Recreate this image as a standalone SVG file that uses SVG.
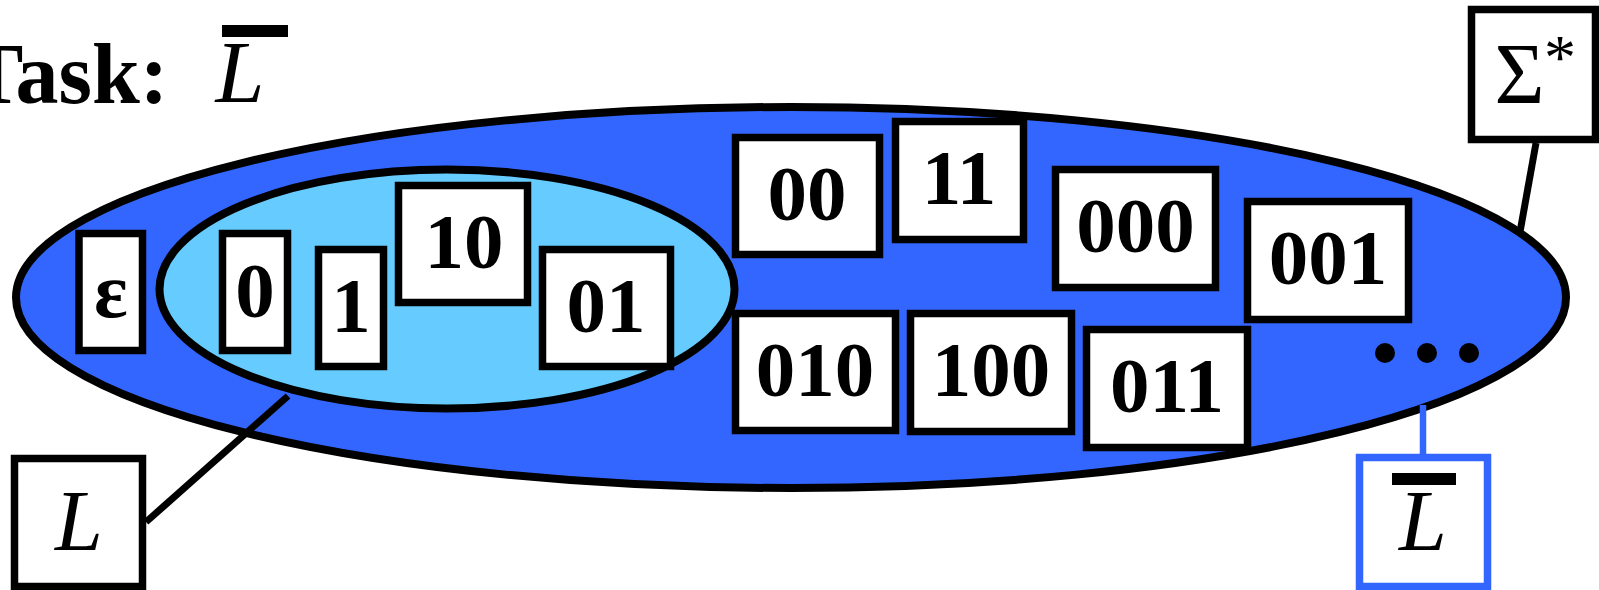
<svg xmlns="http://www.w3.org/2000/svg" width="1599" height="590" viewBox="0 0 1599 590">
<style>
.box{fill:#fff;stroke:#000;stroke-width:7.5}
.bbox{fill:#fff;stroke:#3366FF;stroke-width:7.5}
.num{font-family:"Liberation Serif","Times New Roman",serif;font-weight:bold;font-size:79px;text-anchor:middle;fill:#000}
.it{font-family:"Liberation Serif","Times New Roman",serif;font-style:italic;font-size:86px;text-anchor:middle;fill:#000}
.rm{font-family:"Liberation Serif","Times New Roman",serif;font-size:86px;text-anchor:middle;fill:#000}
.sup{font-family:"Liberation Serif","Times New Roman",serif;font-size:64px;text-anchor:middle;fill:#000}
.ttl{font-family:"Liberation Serif","Times New Roman",serif;font-weight:bold;font-size:86px;fill:#000}
.ln{stroke:#000;stroke-width:7;fill:none}
.bln{stroke:#3366FF;stroke-width:6.5;fill:none}
</style>
<rect width="1599" height="590" fill="#fff"/>
<g id="title">
<text class="ttl" x="-34" y="103">Task:</text>
<rect x="222" y="25" width="66" height="12" fill="#000"/>
<text class="it" x="240" y="102" style="font-size:88px">L</text>
</g>
<g id="sigma-star-set">
<ellipse cx="791" cy="297.5" rx="775" ry="190.5" fill="#3366FF" stroke="#000" stroke-width="8"/>
</g>
<g id="L-set">
<ellipse cx="447" cy="289" rx="287.5" ry="119.5" fill="#66CCFF" stroke="#000" stroke-width="8"/>
</g>
<g id="connectors">
<line class="ln" x1="146" y1="522" x2="288" y2="396"/>
<line class="ln" x1="1536" y1="143" x2="1520" y2="232"/>
<line class="bln" x1="1423" y1="405" x2="1423" y2="456"/>
</g>
<g id="w-eps"><rect class="box" x="79" y="233.5" width="63.5" height="117"/><text class="num" x="111" y="317">ε</text></g>
<g id="w-0"><rect class="box" x="222.5" y="233.5" width="65" height="117"/><text class="num" x="255" y="317">0</text></g>
<g id="w-1"><rect class="box" x="318.5" y="249.5" width="65" height="117"/><text class="num" x="351" y="332">1</text></g>
<g id="w-10"><rect class="box" x="398.5" y="185.5" width="129" height="117"/><text class="num" x="464" y="268">10</text></g>
<g id="w-01"><rect class="box" x="542.5" y="249.5" width="128" height="117"/><text class="num" x="606" y="332">01</text></g>
<g id="w-00"><rect class="box" x="735.5" y="137.5" width="144" height="117"/><text class="num" x="807" y="220">00</text></g>
<g id="w-11"><rect class="box" x="895.5" y="121.5" width="128" height="118"/><text class="num" x="959" y="204">11</text></g>
<g id="w-000"><rect class="box" x="1055.5" y="169.5" width="160" height="118"/><text class="num" x="1135.5" y="252">000</text></g>
<g id="w-001"><rect class="box" x="1247.5" y="201.5" width="161" height="118"/><text class="num" x="1328" y="284">001</text></g>
<g id="w-010"><rect class="box" x="735.5" y="313.5" width="160" height="117"/><text class="num" x="815" y="396">010</text></g>
<g id="w-100"><rect class="box" x="910.5" y="313.5" width="161" height="118"/><text class="num" x="991" y="396">100</text></g>
<g id="w-011"><rect class="box" x="1086.5" y="329.5" width="161" height="118"/><text class="num" x="1167" y="412">011</text></g>
<g id="ellipsis">
<circle cx="1385" cy="353" r="10"/>
<circle cx="1427" cy="353" r="10"/>
<circle cx="1469" cy="353" r="10"/>
</g>
<g id="label-sigma-star"><rect class="box" x="1471.5" y="9.5" width="124" height="130"/><text class="rm" x="1519.5" y="103">Σ</text><text class="sup" x="1560" y="79">*</text></g>
<g id="label-L"><rect class="box" x="14.5" y="458.5" width="128" height="128"/><text class="it" x="79" y="550">L</text></g>
<g id="label-L-complement"><rect class="bbox" x="1359.5" y="457.5" width="128" height="129"/><rect x="1392" y="473" width="64" height="12" fill="#000"/><text class="it" x="1423" y="550">L</text></g>
</svg>
